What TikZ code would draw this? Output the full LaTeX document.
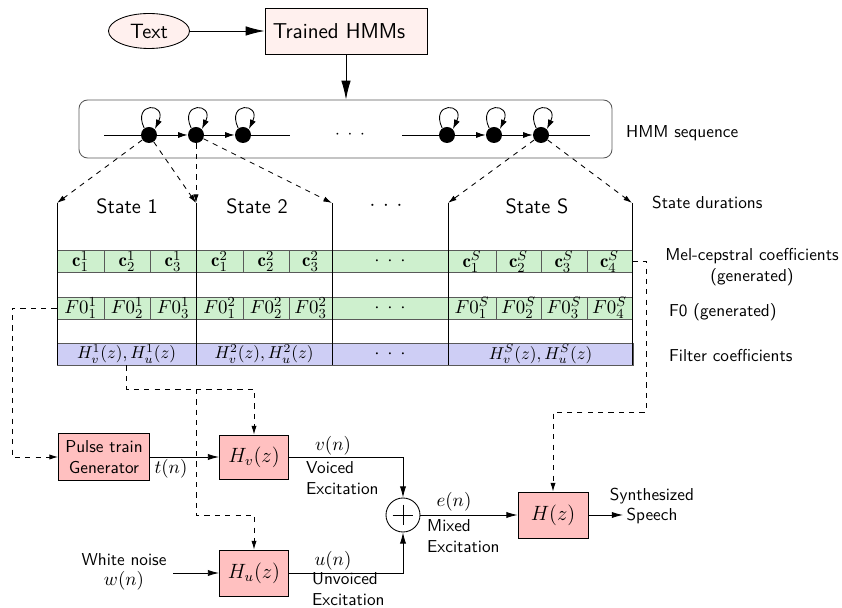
\documentclass[tikz,border=0pt]{standalone}
\usepackage{fontspec}
\usetikzlibrary{arrows.meta,shapes.geometric,calc}
\definecolor{paleRose}{RGB}{255,240,238}
\definecolor{blockPink}{RGB}{255,192,192}
\definecolor{rowGreen}{RGB}{206,240,206}
\definecolor{rowLilac}{RGB}{206,206,245}
\definecolor{rimGray}{gray}{0.35}
% spaced ellipsis used in the rows and the HMM chain
\newcommand\tdots{${\cdot}\hspace{4.5pt}{\cdot}\hspace{4.5pt}{\cdot}$}
% slightly smaller size for the filter-coefficient row
\newcommand\filtsize{\fontsize{10}{12}\selectfont}
% one table cell: name, left x, right x, centre y, fill, content
\newcommand\rowcell[6]{\node[cell,fill=#5,minimum width={(#3-#2)*0.58pt}] (#1) at ({(#2+#3)/2},#4) {#6};}
\begin{document}
\begin{tikzpicture}[x=0.58pt,y=-0.58pt,line width=0.5pt,
  every node/.style={font=\sffamily\fontsize{10}{12}\selectfont},
  big/.style={font=\sffamily\fontsize{12}{14}\selectfont},
  mth/.style={font=\fontsize{11}{13}\selectfont},
  bigArr/.style={-{Latex[length=11pt,width=5.5pt]}},
  arr/.style={-{Latex[length=6.5pt,width=3.6pt]}},
  stArr/.style={-{Latex[length=5.5pt,width=3.5pt]}},
  dArr/.style={dashed,-{Latex[length=5pt,width=3pt]}},
  cell/.style={draw=rimGray,inner sep=0pt,minimum height=22*0.58pt,font=\fontsize{11}{13}\selectfont},
  block/.style={draw,fill=blockPink,inner sep=0pt},
  hmmstate/.style={circle,fill=black,inner sep=0pt,minimum size=16*0.58pt},
]
\useasboundingbox (0,0) rectangle (842,608);

% ---- input and model
\node[ellipse,draw,fill=paleRose,minimum width=81*0.58pt,minimum height=35*0.58pt,inner sep=0pt,big] (txt) at (149,31) {Text};
\node[draw,fill=paleRose,minimum width=162*0.58pt,minimum height=46*0.58pt,inner sep=0pt,font=\sffamily\fontsize{12.5}{15}\selectfont] (trained) at (346,31) {\hspace*{-8pt}Trained HMMs};
\draw[bigArr] (txt) -- (trained);
\node[draw=rimGray,rounded corners=5pt,minimum width=533*0.58pt,minimum height=58*0.58pt] (hmmseq) at (345.5,129) {};
\draw[bigArr] (trained.south) -- (trained.south |- hmmseq.north);
\node[anchor=west] (seqLab) at (620,133) {HMM sequence};

% ---- HMM state chain
\foreach \n/\x in {s1/149,s2/196,s3/243,t1/447,t2/494,t3/541}
  \node[hmmstate] (\n) at (\x,135) {};
\coordinate (la) at (104,135); \coordinate (lb) at (290,135);
\coordinate (ra) at (402,135); \coordinate (rb) at (590,135);
\draw (la) -- (s1); \draw[stArr] (s1) -- (s2); \draw[stArr] (s2) -- (s3); \draw (s3) -- (lb);
\draw (ra) -- (t1); \draw[stArr] (t1) -- (t2); \draw[stArr] (t2) -- (t3); \draw (t3) -- (rb);
\node (hdots) at (350,135) {\tdots};
\foreach \n in {s1,s2,s3,t1,t2,t3}
  \draw[stArr] (\n.125) .. controls +(115:17pt) and +(65:17pt) .. (\n.45);

% ---- state boundaries
\foreach \i/\x in {0/57,1/196,2/332,3/448,4/632}{
  \coordinate (bt\i) at (\x,203);
  \coordinate (bb\i) at (\x,365);
}
\draw[dArr] (s1) -- (bt0);
\draw[dArr] (s1) -- (bt1);
\draw[dArr] (s2) -- (bt1);
\draw[dArr] (s2) -- (bt2);
\draw[dArr] (t3) -- (bt3);
\draw[dArr] (t3) -- (bt4);
\node[big] (st1) at (127,206) {State 1};
\node[big] (st2) at (257,206) {State 2};
\node[big] (stdots) at (386,206) {\tdots};
\node[big] (stS) at (537,206) {State S};
\node[anchor=west] (durLab) at (646,203) {State durations};

% ---- mel-cepstral row
\rowcell{m11}{57}{104}{261.5}{rowGreen}{$\mathbf{c}_1^1$}
\rowcell{m12}{104}{150}{261.5}{rowGreen}{$\mathbf{c}_2^1$}
\rowcell{m13}{150}{196}{261.5}{rowGreen}{$\mathbf{c}_3^1$}
\rowcell{m21}{196}{243}{261.5}{rowGreen}{$\mathbf{c}_1^2$}
\rowcell{m22}{243}{289}{261.5}{rowGreen}{$\mathbf{c}_2^2$}
\rowcell{m23}{289}{332}{261.5}{rowGreen}{$\mathbf{c}_3^2$}
\rowcell{mdd}{332}{448}{261.5}{rowGreen}{\tdots}
\rowcell{mS1}{448}{496}{261.5}{rowGreen}{$\mathbf{c}_1^S$}
\rowcell{mS2}{496}{541}{261.5}{rowGreen}{$\mathbf{c}_2^S$}
\rowcell{mS3}{541}{587}{261.5}{rowGreen}{$\mathbf{c}_3^S$}
\rowcell{mS4}{587}{632}{261.5}{rowGreen}{$\mathbf{c}_4^S$}
% ---- F0 row
\rowcell{f11}{57}{104}{308}{rowGreen}{$F0_1^1$}
\rowcell{f12}{104}{150}{308}{rowGreen}{$F0_2^1$}
\rowcell{f13}{150}{196}{308}{rowGreen}{$F0_3^1$}
\rowcell{f21}{196}{243}{308}{rowGreen}{$F0_1^2$}
\rowcell{f22}{243}{289}{308}{rowGreen}{$F0_2^2$}
\rowcell{f23}{289}{332}{308}{rowGreen}{$F0_3^2$}
\rowcell{fdd}{332}{448}{308}{rowGreen}{\tdots}
\rowcell{fS1}{448}{496}{308}{rowGreen}{$F0_1^S$}
\rowcell{fS2}{496}{541}{308}{rowGreen}{$F0_2^S$}
\rowcell{fS3}{541}{587}{308}{rowGreen}{$F0_3^S$}
\rowcell{fS4}{587}{632}{308}{rowGreen}{$F0_4^S$}
% ---- filter row
\rowcell{h1}{57}{196}{354}{rowLilac}{{\filtsize$H_v^1(z),H_u^1(z)$}}
\rowcell{h2}{196}{332}{354}{rowLilac}{{\filtsize$H_v^2(z),H_u^2(z)$}}
\rowcell{hdd}{332}{448}{354}{rowLilac}{\tdots}
\rowcell{hS}{448}{633}{354}{rowLilac}{{\filtsize$H_v^S(z),H_u^S(z)$}}

\foreach \i in {0,...,4} \draw (bt\i) -- (bb\i);

\node[align=center] (melLab) at (752,267) {Mel-cepstral coefficients\\(generated)};
\node[anchor=west] (f0Lab) at (663,312) {F0 (generated)};
\node[anchor=west] (filtLab) at (663,356) {Filter coefficients};

% ---- synthesis blocks
\node[block,align=center,minimum width=91*0.58pt,minimum height=47*0.58pt] (pulse) at (104,457) {Pulse train\\Generator};
\node[block,minimum width=69*0.58pt,minimum height=44*0.58pt,font=\large] (hv) at (254,457) {$H_v(z)$};
\node[block,minimum width=69*0.58pt,minimum height=46*0.58pt,font=\large] (hu) at (254,573) {$H_u(z)$};
\node[circle,draw,minimum size=34*0.58pt,inner sep=0pt] (sum) at (403,515) {};
\draw ($(sum.north)!0.2!(sum.south)$) -- ($(sum.north)!0.8!(sum.south)$);
\draw ($(sum.west)!0.2!(sum.east)$) -- ($(sum.west)!0.8!(sum.east)$);
\node[block,minimum width=70*0.58pt,minimum height=46*0.58pt,font=\large] (hz) at (553,515) {$H(z)$};

\draw[arr] (pulse) -- (hv);
\draw[arr] (hv.east) -| (sum.north);
\draw[arr] (hu.east) -| (sum.south);
\draw[arr] (sum) -- (hz);
\coordinate (spEnd) at (623,515);
\draw[arr] (hz.east) -- (spEnd);
\node[align=center] (speech) at (652,506) {Synthesized\\Speech};
\coordinate (wnStart) at (173,573);
\draw[arr] (wnStart) -- (hu.west);
\node[align=center] (wn) at (124,572) {White noise\\{\fontsize{11}{13}\selectfont$w(n)$}};

\node[mth] (tn) at (171,469) {$t(n)$};
\node[mth] (vn) at (333,446) {$v(n)$};
\node[anchor=west,align=left] (vlab) at (300,478) {Voiced\\Excitation};
\node[mth] (un) at (333,561) {$u(n)$};
\node[anchor=west,align=left] (ulab) at (306,589) {Unvoiced\\Excitation};
\node[mth] (en) at (454,502) {$e(n)$};
\node[anchor=west,align=left] (elab) at (421,536) {Mixed\\Excitation};

% ---- parameter feeds
\coordinate (fL) at (12,308);
\draw[dArr] (f11.west) -- (fL) |- (pulse.west);
\coordinate (fJ) at (196,389);
\draw[dArr] (h1.south) |- (fJ) -| (hv.north);
\coordinate (fK) at (196,515);
\draw[dArr] (fJ) -- (fK) -| (hu.north);
\coordinate (rA) at (646,261.5);
\coordinate (rB) at (646,412);
\draw[dArr] (mS4.east) -- (rA) -- (rB) -| (hz.north);
\end{tikzpicture}
\end{document}
